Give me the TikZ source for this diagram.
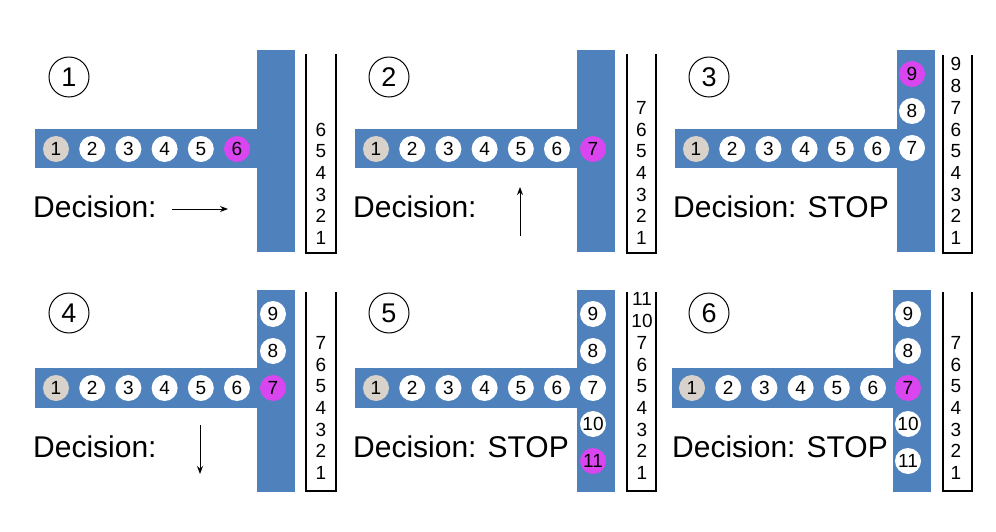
\documentclass[tikz,border=0pt]{standalone}
\usepackage{fontspec}
\setmainfont{Liberation Sans}
\usetikzlibrary{arrows.meta}
\definecolor{barblue}{HTML}{4F81BD}
\definecolor{hotmag}{HTML}{D946EF}
\definecolor{ballgray}{HTML}{D9D2CB}
\tikzset{
  tbar/.style={fill=barblue, draw=none},
  ball/.style={circle, fill=white, minimum size=26pt, inner sep=0pt, font=\fontsize{19}{19}\selectfont},
  startball/.style={ball, fill=ballgray},
  curball/.style={ball, fill=hotmag},
  tag/.style={circle, draw=black, line width=1pt, minimum size=40pt, inner sep=0pt, font=\fontsize{27}{27}\selectfont},
  decision/.style={anchor=base west, inner sep=0pt, font=\fontsize{30}{30}\selectfont},
  stackline/.style={line width=1.2pt},
  stacknum/.style={inner sep=0pt, font=\fontsize{19}{19}\selectfont},
  dirarrow/.style={-{Stealth[length=8pt,width=6pt]}, line width=1pt}
}
\begin{document}
\begin{tikzpicture}[x=1pt,y=-1pt]
\useasboundingbox (0,0) rectangle (996,532);
\fill[white] (0,0) rectangle (996,532);

% ---------- Panel 1 ----------
\begin{scope}
  \fill[tbar] (35,129) rectangle (257,168);
  \fill[tbar] (257,50) rectangle (295,252);
  \node[tag] (t1) at (69,77) {1};
  \node[startball] (p1b1) at (56,149) {1};
  \foreach \i in {2,...,5} \node[ball] (p1b\i) at ({56+36.2*(\i-1)},149) {\i};
  \node[curball] (p1b6) at (237,149) {6};
  \node[decision] (p1d) at (33,217) {Decision:};
  \coordinate (p1a0) at (172,209);
  \coordinate (p1a1) at (228,209);
  \draw[dirarrow] (p1a0) -- (p1a1);
  \draw[stackline] (306,54) -- (306,253) -- (336,253) -- (336,54);
  \foreach \n [count=\k] in {1,...,6} \node[stacknum] (p1s\k) at (321,{238-21.7*(\k-1)}) {\n};
\end{scope}

% ---------- Panel 2 ----------
\begin{scope}[shift={(320,0)}]
  \fill[tbar] (35,129) rectangle (257,168);
  \fill[tbar] (257,50) rectangle (295,252);
  \node[tag] (t2) at (69,77) {2};
  \node[startball] (p2b1) at (56,149) {1};
  \foreach \i in {2,...,6} \node[ball] (p2b\i) at ({56+36.2*(\i-1)},149) {\i};
  \node[curball] (p2b7) at (273,149) {7};
  \node[decision] (p2d) at (33,217) {Decision:};
  \coordinate (p2a0) at (200,236);
  \coordinate (p2a1) at (200,187);
  \draw[dirarrow] (p2a0) -- (p2a1);
  \draw[stackline] (307,54) -- (307,253) -- (336,253) -- (336,54);
  \foreach \n [count=\k] in {1,...,7} \node[stacknum] (p2s\k) at (321.5,{238-21.7*(\k-1)}) {\n};
\end{scope}

% ---------- Panel 3 ----------
\begin{scope}[shift={(640,0)}]
  \fill[tbar] (35,129) rectangle (257,168);
  \fill[tbar] (257,50) rectangle (295,252);
  \node[tag] (t3) at (69,77) {3};
  \node[startball] (p3b1) at (56,149) {1};
  \foreach \i in {2,...,6} \node[ball] (p3b\i) at ({56+36.2*(\i-1)},149) {\i};
  \node[ball] (p3b7) at (272,148) {7};
  \node[ball] (p3b8) at (272,111) {8};
  \node[curball] (p3b9) at (272,74) {9};
  \node[decision] (p3d) at (33,217) {Decision: STOP};
  \draw[stackline] (303,55) -- (303,253) -- (332,253) -- (332,55);
  \foreach \n [count=\k] in {1,...,9} \node[stacknum] (p3s\k) at (316,{238-21.7*(\k-1)}) {\n};
\end{scope}

% ---------- Panel 4 ----------
\begin{scope}[shift={(0,240)}]
  \fill[tbar] (35,128) rectangle (257,168);
  \fill[tbar] (257,50) rectangle (295,252);
  \node[tag] (t4) at (69,73) {4};
  \node[startball] (p4b1) at (56,148) {1};
  \foreach \i in {2,...,6} \node[ball] (p4b\i) at ({56+36.2*(\i-1)},148) {\i};
  \node[curball] (p4b7) at (273,148) {7};
  \node[ball] (p4b8) at (273,111) {8};
  \node[ball] (p4b9) at (273,74) {9};
  \node[decision] (p4d) at (33,217) {Decision:};
  \coordinate (p4a0) at (200,185);
  \coordinate (p4a1) at (200,234);
  \draw[dirarrow] (p4a0) -- (p4a1);
  \draw[stackline] (306,52) -- (306,251) -- (336,251) -- (336,52);
  \foreach \n [count=\k] in {1,...,7} \node[stacknum] (p4s\k) at (321,{233-21.7*(\k-1)}) {\n};
\end{scope}

% ---------- Panel 5 ----------
\begin{scope}[shift={(320,240)}]
  \fill[tbar] (35,128) rectangle (257,168);
  \fill[tbar] (257,50) rectangle (295,252);
  \node[tag] (t5) at (69,73) {5};
  \node[startball] (p5b1) at (56,148) {1};
  \foreach \i in {2,...,6} \node[ball] (p5b\i) at ({56+36.2*(\i-1)},148) {\i};
  \node[ball] (p5b7) at (273,148) {7};
  \node[ball] (p5b8) at (273,111) {8};
  \node[ball] (p5b9) at (273,74) {9};
  \node[ball] (p5b10) at (273,184) {10};
  \node[curball] (p5b11) at (273,221) {11};
  \node[decision] (p5d) at (33,217) {Decision: STOP};
  \draw[stackline] (307,52) -- (307,251) -- (336,251) -- (336,52);
  \foreach \n [count=\k] in {1,2,3,4,5,6,7,10,11} \node[stacknum] (p5s\k) at (322,{233-21.7*(\k-1)}) {\n};
\end{scope}

% ---------- Panel 6 ----------
\begin{scope}[shift={(640,240)}]
  \fill[tbar] (32,128) rectangle (253,168);
  \fill[tbar] (253,50) rectangle (291,252);
  \node[tag] (t6) at (69,73) {6};
  \node[startball] (p6b1) at (52,148) {1};
  \foreach \i in {2,...,6} \node[ball] (p6b\i) at ({52+36.2*(\i-1)},148) {\i};
  \node[curball] (p6b7) at (268,148) {7};
  \node[ball] (p6b8) at (268,111) {8};
  \node[ball] (p6b9) at (268,74) {9};
  \node[ball] (p6b10) at (268,184) {10};
  \node[ball] (p6b11) at (268,221) {11};
  \node[decision] (p6d) at (32,217) {Decision: STOP};
  \draw[stackline] (303,52) -- (303,251) -- (332,251) -- (332,52);
  \foreach \n [count=\k] in {1,...,7} \node[stacknum] (p6s\k) at (316,{233-21.7*(\k-1)}) {\n};
\end{scope}
\end{tikzpicture}
\end{document}
